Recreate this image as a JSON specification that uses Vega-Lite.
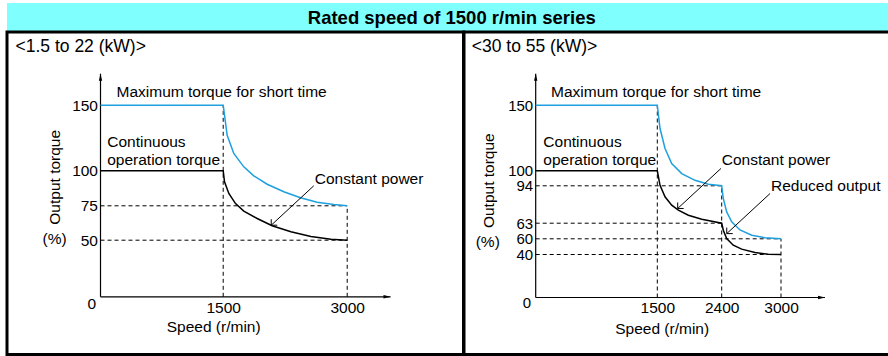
{
  "$schema": "https://vega.github.io/schema/vega-lite/v6.json",
  "padding": {"left": 5, "top": 3, "right": 0, "bottom": 0},
  "bounds": "flush",
  "spacing": 0,
  "config": {
    "font": "Liberation Sans",
    "view": {"stroke": "black", "strokeWidth": 3},
    "text": {"font": "Liberation Sans", "fontSize": 15.5, "color": "black"},
    "axis": {"domain": false, "ticks": false, "grid": false, "format": "d", "labelFont": "Liberation Sans", "labelFontSize": 15.5, "labelColor": "black", "labelFlush": false, "labelOverlap": false, "labelBound": false, "titleFont": "Liberation Sans", "titleFontSize": 15.5, "titleFontWeight": "normal", "titleColor": "black", "titleBaseline": "middle", "titleAlign": "center"}
  },
  "datasets": {
    "header": [{"label": "Rated speed of 1500 r/min series"}],
    "guidesL": [
      {"x1": 0, "y1": 75, "x2": 3000, "y2": 75},
      {"x1": 0, "y1": 50, "x2": 3000, "y2": 50},
      {"x1": 1500, "y1": 0, "x2": 1500, "y2": 150},
      {"x1": 3000, "y1": 0, "x2": 3000, "y2": 75}
    ],
    "axesL": [
      {"x1": 0, "y1": 0, "x2": 0, "y2": 174},
      {"x1": 0, "y1": 0, "x2": 3524, "y2": 0}
    ],
    "tipsL": [
      {"x": 0, "y": 174, "dir": "up"},
      {"x": 3524, "y": 0, "dir": "right"}
    ],
    "curvesL": [
      {"series": "Maximum", "speed": 0, "torque": 150},
      {"series": "Maximum", "speed": 1500, "torque": 150},
      {"series": "Maximum", "speed": 1548, "torque": 127.1},
      {"series": "Maximum", "speed": 1628, "torque": 113.2},
      {"series": "Maximum", "speed": 1749, "torque": 103},
      {"series": "Maximum", "speed": 1870, "torque": 96.4},
      {"series": "Maximum", "speed": 2032, "torque": 90.4},
      {"series": "Maximum", "speed": 2233, "torque": 85},
      {"series": "Maximum", "speed": 2435, "torque": 80.7},
      {"series": "Maximum", "speed": 2636, "torque": 77.6},
      {"series": "Maximum", "speed": 2838, "torque": 75.9},
      {"series": "Maximum", "speed": 3000, "torque": 75},
      {"series": "Continuous", "speed": 0, "torque": 100},
      {"series": "Continuous", "speed": 1500, "torque": 100},
      {"series": "Continuous", "speed": 1516, "torque": 92.1},
      {"series": "Continuous", "speed": 1568, "torque": 83.8},
      {"series": "Continuous", "speed": 1649, "torque": 76.6},
      {"series": "Continuous", "speed": 1749, "torque": 71.1},
      {"series": "Continuous", "speed": 1911, "torque": 65.8},
      {"series": "Continuous", "speed": 2092, "torque": 60.5},
      {"series": "Continuous", "speed": 2319, "torque": 56.1},
      {"series": "Continuous", "speed": 2561, "torque": 52.7},
      {"series": "Continuous", "speed": 2803, "torque": 50.7},
      {"series": "Continuous", "speed": 3000, "torque": 50}
    ],
    "leadersL": [
      {"x1": 2596, "y1": 89.3, "x2": 2081, "y2": 60.9}
    ],
    "panelL": [{"text": "<1.5 to 22 (kW)>", "x": -1039, "y": 194.5}],
    "labelsL": [
      {"text": "Maximum torque for short time", "x": 196, "y": 160.3},
      {"text": "Continuous", "x": 82, "y": 122.1},
      {"text": "operation torque", "x": 82, "y": 108.1},
      {"text": "Constant power", "x": 2608, "y": 94.5},
      {"text": "(%)", "x": -709, "y": 51.2}
    ],
    "guidesR": [
      {"x1": 0, "y1": 94, "x2": 2400, "y2": 94},
      {"x1": 0, "y1": 63, "x2": 2400, "y2": 63},
      {"x1": 0, "y1": 60, "x2": 3000, "y2": 60},
      {"x1": 0, "y1": 40, "x2": 3000, "y2": 40},
      {"x1": 1500, "y1": 0, "x2": 1500, "y2": 150},
      {"x1": 2400, "y1": 0, "x2": 2400, "y2": 94},
      {"x1": 3000, "y1": 0, "x2": 3000, "y2": 60}
    ],
    "axesR": [
      {"x1": 0, "y1": 0, "x2": 0, "y2": 174},
      {"x1": 0, "y1": 0, "x2": 3445, "y2": 0}
    ],
    "tipsR": [
      {"x": 0, "y": 174, "dir": "up"},
      {"x": 3445, "y": 0, "dir": "right"}
    ],
    "curvesR": [
      {"series": "Maximum", "speed": 0, "torque": 150},
      {"series": "Maximum", "speed": 1500, "torque": 150},
      {"series": "Maximum", "speed": 1538, "torque": 132.2},
      {"series": "Maximum", "speed": 1608, "torque": 117},
      {"series": "Maximum", "speed": 1701, "torque": 105.6},
      {"series": "Maximum", "speed": 1841, "torque": 98.9},
      {"series": "Maximum", "speed": 2027, "torque": 96.2},
      {"series": "Maximum", "speed": 2213, "torque": 94.6},
      {"series": "Maximum", "speed": 2400, "torque": 94},
      {"series": "Maximum", "speed": 2416, "torque": 83.5},
      {"series": "Maximum", "speed": 2450, "torque": 72.4},
      {"series": "Maximum", "speed": 2501, "torque": 64.2},
      {"series": "Maximum", "speed": 2585, "torque": 61.7},
      {"series": "Maximum", "speed": 2704, "torque": 60.7},
      {"series": "Maximum", "speed": 2838, "torque": 60.2},
      {"series": "Maximum", "speed": 3000, "torque": 60},
      {"series": "Continuous", "speed": 0, "torque": 100},
      {"series": "Continuous", "speed": 1500, "torque": 100},
      {"series": "Continuous", "speed": 1538, "torque": 94.2},
      {"series": "Continuous", "speed": 1608, "torque": 84.9},
      {"series": "Continuous", "speed": 1701, "torque": 77.9},
      {"series": "Continuous", "speed": 1794, "torque": 73.8},
      {"series": "Continuous", "speed": 1934, "torque": 69.6},
      {"series": "Continuous", "speed": 2121, "torque": 66.3},
      {"series": "Continuous", "speed": 2400, "torque": 63},
      {"series": "Continuous", "speed": 2416, "torque": 61.65},
      {"series": "Continuous", "speed": 2450, "torque": 60.06},
      {"series": "Continuous", "speed": 2517, "torque": 51.8},
      {"series": "Continuous", "speed": 2602, "torque": 46.8},
      {"series": "Continuous", "speed": 2737, "torque": 42.5},
      {"series": "Continuous", "speed": 2872, "torque": 40.4},
      {"series": "Continuous", "speed": 3000, "torque": 40}
    ],
    "leadersR": [
      {"x1": 2390, "y1": 101.8, "x2": 1785, "y2": 75.2},
      {"x1": 2889, "y1": 87.6, "x2": 2451, "y2": 61.0}
    ],
    "panelR": [{"text": "<30 to 55 (kW)>", "x": -789, "y": 194.5}],
    "labelsR": [
      {"text": "Maximum torque for short time", "x": 189, "y": 160.3},
      {"text": "Continuous", "x": 94, "y": 122.1},
      {"text": "operation torque", "x": 94, "y": 108.1},
      {"text": "Constant power", "x": 2400, "y": 108.1},
      {"text": "Reduced output", "x": 2899, "y": 93.7},
      {"text": "(%)", "x": -740, "y": 55.3}
    ]
  },
  "vconcat": [
    {
      "width": 884.5,
      "height": 29,
      "view": {"fill": "#80ffff"},
      "data": {"name": "header"},
      "mark": {"type": "text", "fontWeight": "bold", "fontSize": 18.5, "dx": 2.5, "baseline": "middle"},
      "encoding": {"text": {"field": "label"}}
    },
    {
      "hconcat": [
        {
          "width": 456.5,
          "height": 322.5,
          "encoding": {
            "x": {"type": "quantitative",
              "scale": {"domain": [0, 1500, 3000], "range": [93.5, 216.2, 340.2], "nice": false, "zero": false},
              "axis": {"orient": "bottom", "offset": -57.7, "values": [1500, 3000], "labelPadding": 10.7, "labelBaseline": "middle", "title": "Speed (r/min)", "titleX": 206.2, "titleY": 30}},
            "y": {"type": "quantitative",
              "scale": {"domain": [0, 50, 75, 100, 150], "range": [264.8, 208.2, 173.8, 138.8, 73.2], "nice": false, "zero": false},
              "axis": {"orient": "left", "offset": -93.5, "values": [0, 50, 75, 100, 150], "labelPadding": {"condition": {"test": "datum.value === 0", "value": 5}, "value": 3}, "labelOffset": {"condition": {"test": "datum.value === 0", "value": 6.7}, "value": 0}, "title": "Output torque", "titleX": -45.7, "titleY": 144.8, "titleAngle": -90}}
          },
          "layer": [
            {
              "data": {"name": "guidesL"},
              "mark": {"type": "rule", "strokeDash": [4, 3], "strokeWidth": 1, "color": "black"},
              "encoding": {"x": {"field": "x1"}, "y": {"field": "y1"}, "x2": {"field": "x2"}, "y2": {"field": "y2"}}
            },
            {
              "data": {"name": "axesL"},
              "mark": {"type": "rule", "strokeWidth": 1.2, "color": "black"},
              "encoding": {"x": {"field": "x1"}, "y": {"field": "y1"}, "x2": {"field": "x2"}, "y2": {"field": "y2"}}
            },
            {
              "data": {"name": "curvesL"},
              "mark": {"type": "line", "strokeWidth": 1.5},
              "encoding": {
                "x": {"field": "speed"},
                "y": {"field": "torque"},
                "color": {"field": "series", "type": "nominal", "scale": {"domain": ["Maximum", "Continuous"], "range": ["#1e9fde", "#000000"]}, "legend": null}
              }
            },
            {
              "data": {"name": "tipsL"},
              "mark": {"type": "point", "filled": true, "color": "black", "size": 64, "opacity": 1},
              "encoding": {
                "x": {"field": "x"}, "y": {"field": "y"},
                "shape": {"field": "dir", "type": "nominal", "scale": {"domain": ["up", "right"], "range": ["M0,0L0.42,1.75L-0.42,1.75Z", "M0,0L-1.75,0.42L-1.75,-0.42Z"]}, "legend": null}
              }
            },
            {
              "data": {"name": "leadersL"},
              "mark": {"type": "rule", "strokeWidth": 1, "color": "black"},
              "encoding": {"x": {"field": "x1"}, "y": {"field": "y1"}, "x2": {"field": "x2"}, "y2": {"field": "y2"}}
            },
            {
              "data": {"name": "leadersL"},
              "mark": {"type": "point", "shape": "M0,-1L0,0L1,0", "filled": false, "color": "black", "strokeWidth": 1, "size": 144, "opacity": 1},
              "encoding": {"x": {"field": "x2"}, "y": {"field": "y2"}}
            },
            {
              "data": {"name": "labelsL"},
              "mark": {"type": "text", "align": "left", "baseline": "middle"},
              "encoding": {"x": {"field": "x"}, "y": {"field": "y"}, "text": {"field": "text"}}
            },
            {
              "data": {"name": "panelL"},
              "mark": {"type": "text", "align": "left", "baseline": "middle", "fontSize": 17.5},
              "encoding": {"x": {"field": "x"}, "y": {"field": "y"}, "text": {"field": "text"}}
            }
          ]
        },
        {
          "width": 428,
          "height": 322.5,
          "encoding": {
            "x": {"type": "quantitative",
              "scale": {"domain": [0, 1500, 2400, 3000], "range": [71.7, 193.3, 257.7, 317], "nice": false, "zero": false},
              "axis": {"orient": "bottom", "offset": -57, "values": [1500, 2400, 3000], "labelPadding": 10, "labelBaseline": "middle", "title": "Speed (r/min)", "titleX": 197.7, "titleY": 31}},
            "y": {"type": "quantitative",
              "scale": {"domain": [0, 40, 60, 63, 94, 100, 150], "range": [265.5, 222.5, 206.8, 191.2, 153.8, 138.8, 73.2], "nice": false, "zero": false},
              "axis": {"orient": "left", "offset": -71.7, "values": [0, 40, 60, 63, 94, 100, 150], "labelFontSize": 15, "labelPadding": {"condition": {"test": "datum.value === 0", "value": 5}, "value": 3}, "labelOffset": {"condition": {"test": "datum.value === 0", "value": 5}, "value": 0}, "title": "Output torque", "titleX": -47.4, "titleY": 148.2, "titleAngle": -90}}
          },
          "layer": [
            {
              "data": {"name": "guidesR"},
              "mark": {"type": "rule", "strokeDash": [4, 3], "strokeWidth": 1, "color": "black"},
              "encoding": {"x": {"field": "x1"}, "y": {"field": "y1"}, "x2": {"field": "x2"}, "y2": {"field": "y2"}}
            },
            {
              "data": {"name": "axesR"},
              "mark": {"type": "rule", "strokeWidth": 1.2, "color": "black"},
              "encoding": {"x": {"field": "x1"}, "y": {"field": "y1"}, "x2": {"field": "x2"}, "y2": {"field": "y2"}}
            },
            {
              "data": {"name": "curvesR"},
              "mark": {"type": "line", "strokeWidth": 1.5},
              "encoding": {
                "x": {"field": "speed"},
                "y": {"field": "torque"},
                "color": {"field": "series", "type": "nominal", "scale": {"domain": ["Maximum", "Continuous"], "range": ["#1e9fde", "#000000"]}, "legend": null}
              }
            },
            {
              "data": {"name": "tipsR"},
              "mark": {"type": "point", "filled": true, "color": "black", "size": 64, "opacity": 1},
              "encoding": {
                "x": {"field": "x"}, "y": {"field": "y"},
                "shape": {"field": "dir", "type": "nominal", "scale": {"domain": ["up", "right"], "range": ["M0,0L0.42,1.75L-0.42,1.75Z", "M0,0L-1.75,0.42L-1.75,-0.42Z"]}, "legend": null}
              }
            },
            {
              "data": {"name": "leadersR"},
              "mark": {"type": "rule", "strokeWidth": 1, "color": "black"},
              "encoding": {"x": {"field": "x1"}, "y": {"field": "y1"}, "x2": {"field": "x2"}, "y2": {"field": "y2"}}
            },
            {
              "data": {"name": "leadersR"},
              "mark": {"type": "point", "shape": "M0,-1L0,0L1,0", "filled": false, "color": "black", "strokeWidth": 1, "size": 144, "opacity": 1},
              "encoding": {"x": {"field": "x2"}, "y": {"field": "y2"}}
            },
            {
              "data": {"name": "labelsR"},
              "mark": {"type": "text", "align": "left", "baseline": "middle"},
              "encoding": {"x": {"field": "x"}, "y": {"field": "y"}, "text": {"field": "text"}}
            },
            {
              "data": {"name": "panelR"},
              "mark": {"type": "text", "align": "left", "baseline": "middle", "fontSize": 17.5},
              "encoding": {"x": {"field": "x"}, "y": {"field": "y"}, "text": {"field": "text"}}
            }
          ]
        }
      ],
      "spacing": 0,
      "bounds": "flush"
    }
  ]
}
